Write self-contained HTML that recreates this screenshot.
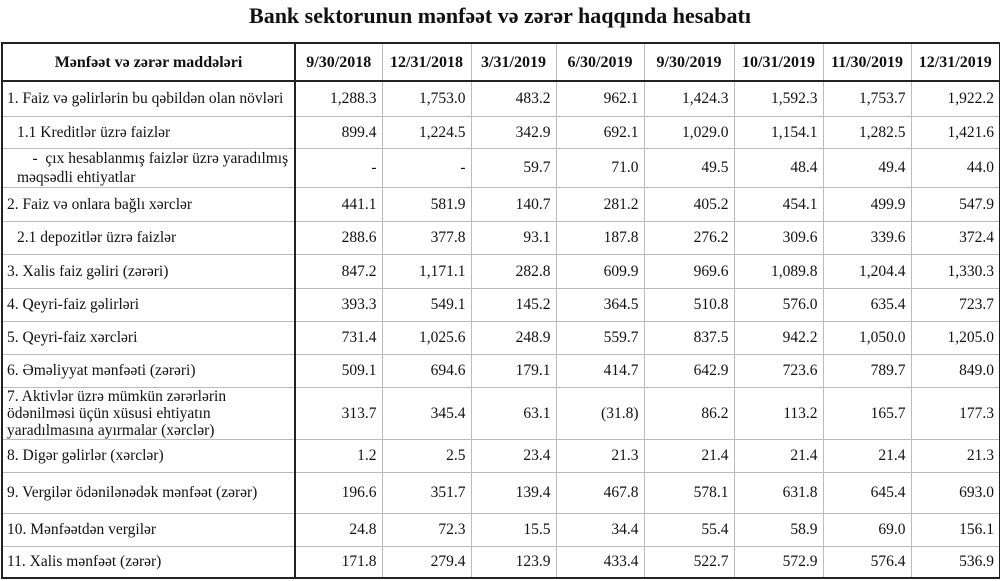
<!DOCTYPE html>
<html><head><meta charset="utf-8"><style>
body{margin:0;background:#fff;width:1000px;height:581px;overflow:hidden;font-family:"Liberation Serif","DejaVu Serif",serif;color:#111}
h1{position:absolute;top:3px;left:0;width:1000px;text-align:center;font-size:22px;font-weight:bold;margin:0}
table{position:absolute;top:42px;left:1px;border-collapse:collapse;border:2px solid #222;table-layout:fixed;width:998px}
td,th{border:1px solid #bbb;font-size:15.5px;padding:0 5px;line-height:19px;white-space:nowrap}
th{font-weight:bold;font-size:16px;height:36px;border-bottom:2px solid #222;text-align:center}
td{text-align:right}
td:first-child{text-align:left;padding-left:4px}
td:first-child,th:first-child{border-right:2px solid #222}
.i{padding-left:14px!important}
</style></head><body>
<h1>Bank sektorunun mənfəət və zərər haqqında hesabatı</h1>
<table>
<colgroup><col style="width:293px"><col style="width:87px"><col style="width:89px"><col style="width:85px"><col style="width:88px"><col style="width:90px"><col style="width:89px"><col style="width:88px"><col style="width:89px"></colgroup>
<tr><th>Mənfəət və zərər maddələri</th><th>9/30/2018</th><th>12/31/2018</th><th>3/31/2019</th><th>6/30/2019</th><th>9/30/2019</th><th>10/31/2019</th><th>11/30/2019</th><th>12/31/2019</th></tr>
<tr style="height:35px"><td>1. Faiz və gəlirlərin bu qəbildən olan növləri</td><td>1,288.3</td><td>1,753.0</td><td>483.2</td><td>962.1</td><td>1,424.3</td><td>1,592.3</td><td>1,753.7</td><td>1,922.2</td></tr>
<tr style="height:32px"><td class="i">1.1 Kreditlər üzrə faizlər</td><td>899.4</td><td>1,224.5</td><td>342.9</td><td>692.1</td><td>1,029.0</td><td>1,154.1</td><td>1,282.5</td><td>1,421.6</td></tr>
<tr style="height:39px"><td class="i">&nbsp;&nbsp;&nbsp;&nbsp;-&nbsp; çıx hesablanmış faizlər üzrə yaradılmış<br>məqsədli ehtiyatlar</td><td>-</td><td>-</td><td>59.7</td><td>71.0</td><td>49.5</td><td>48.4</td><td>49.4</td><td>44.0</td></tr>
<tr style="height:34px"><td>2. Faiz və onlara bağlı xərclər</td><td>441.1</td><td>581.9</td><td>140.7</td><td>281.2</td><td>405.2</td><td>454.1</td><td>499.9</td><td>547.9</td></tr>
<tr style="height:33px"><td class="i">2.1 depozitlər üzrə faizlər</td><td>288.6</td><td>377.8</td><td>93.1</td><td>187.8</td><td>276.2</td><td>309.6</td><td>339.6</td><td>372.4</td></tr>
<tr style="height:34px"><td>3. Xalis faiz gəliri (zərəri)</td><td>847.2</td><td>1,171.1</td><td>282.8</td><td>609.9</td><td>969.6</td><td>1,089.8</td><td>1,204.4</td><td>1,330.3</td></tr>
<tr style="height:33px"><td>4. Qeyri-faiz gəlirləri</td><td>393.3</td><td>549.1</td><td>145.2</td><td>364.5</td><td>510.8</td><td>576.0</td><td>635.4</td><td>723.7</td></tr>
<tr style="height:33px"><td>5. Qeyri-faiz xərcləri</td><td>731.4</td><td>1,025.6</td><td>248.9</td><td>559.7</td><td>837.5</td><td>942.2</td><td>1,050.0</td><td>1,205.0</td></tr>
<tr style="height:33px"><td>6. Əməliyyat mənfəəti (zərəri)</td><td>509.1</td><td>694.6</td><td>179.1</td><td>414.7</td><td>642.9</td><td>723.6</td><td>789.7</td><td>849.0</td></tr>
<tr style="height:52px"><td style="line-height:17px">7. Aktivlər üzrə mümkün zərərlərin<br>ödənilməsi üçün xüsusi ehtiyatın<br>yaradılmasına ayırmalar (xərclər)</td><td>313.7</td><td>345.4</td><td>63.1</td><td>(31.8)</td><td>86.2</td><td>113.2</td><td>165.7</td><td>177.3</td></tr>
<tr style="height:33px"><td>8. Digər gəlirlər (xərclər)</td><td>1.2</td><td>2.5</td><td>23.4</td><td>21.3</td><td>21.4</td><td>21.4</td><td>21.4</td><td>21.3</td></tr>
<tr style="height:41px"><td>9. Vergilər ödənilənədək mənfəət (zərər)</td><td>196.6</td><td>351.7</td><td>139.4</td><td>467.8</td><td>578.1</td><td>631.8</td><td>645.4</td><td>693.0</td></tr>
<tr style="height:33px"><td>10. Mənfəətdən vergilər</td><td>24.8</td><td>72.3</td><td>15.5</td><td>34.4</td><td>55.4</td><td>58.9</td><td>69.0</td><td>156.1</td></tr>
<tr style="height:32px"><td>11. Xalis mənfəət (zərər)</td><td>171.8</td><td>279.4</td><td>123.9</td><td>433.4</td><td>522.7</td><td>572.9</td><td>576.4</td><td>536.9</td></tr>
</table>
</body></html>
